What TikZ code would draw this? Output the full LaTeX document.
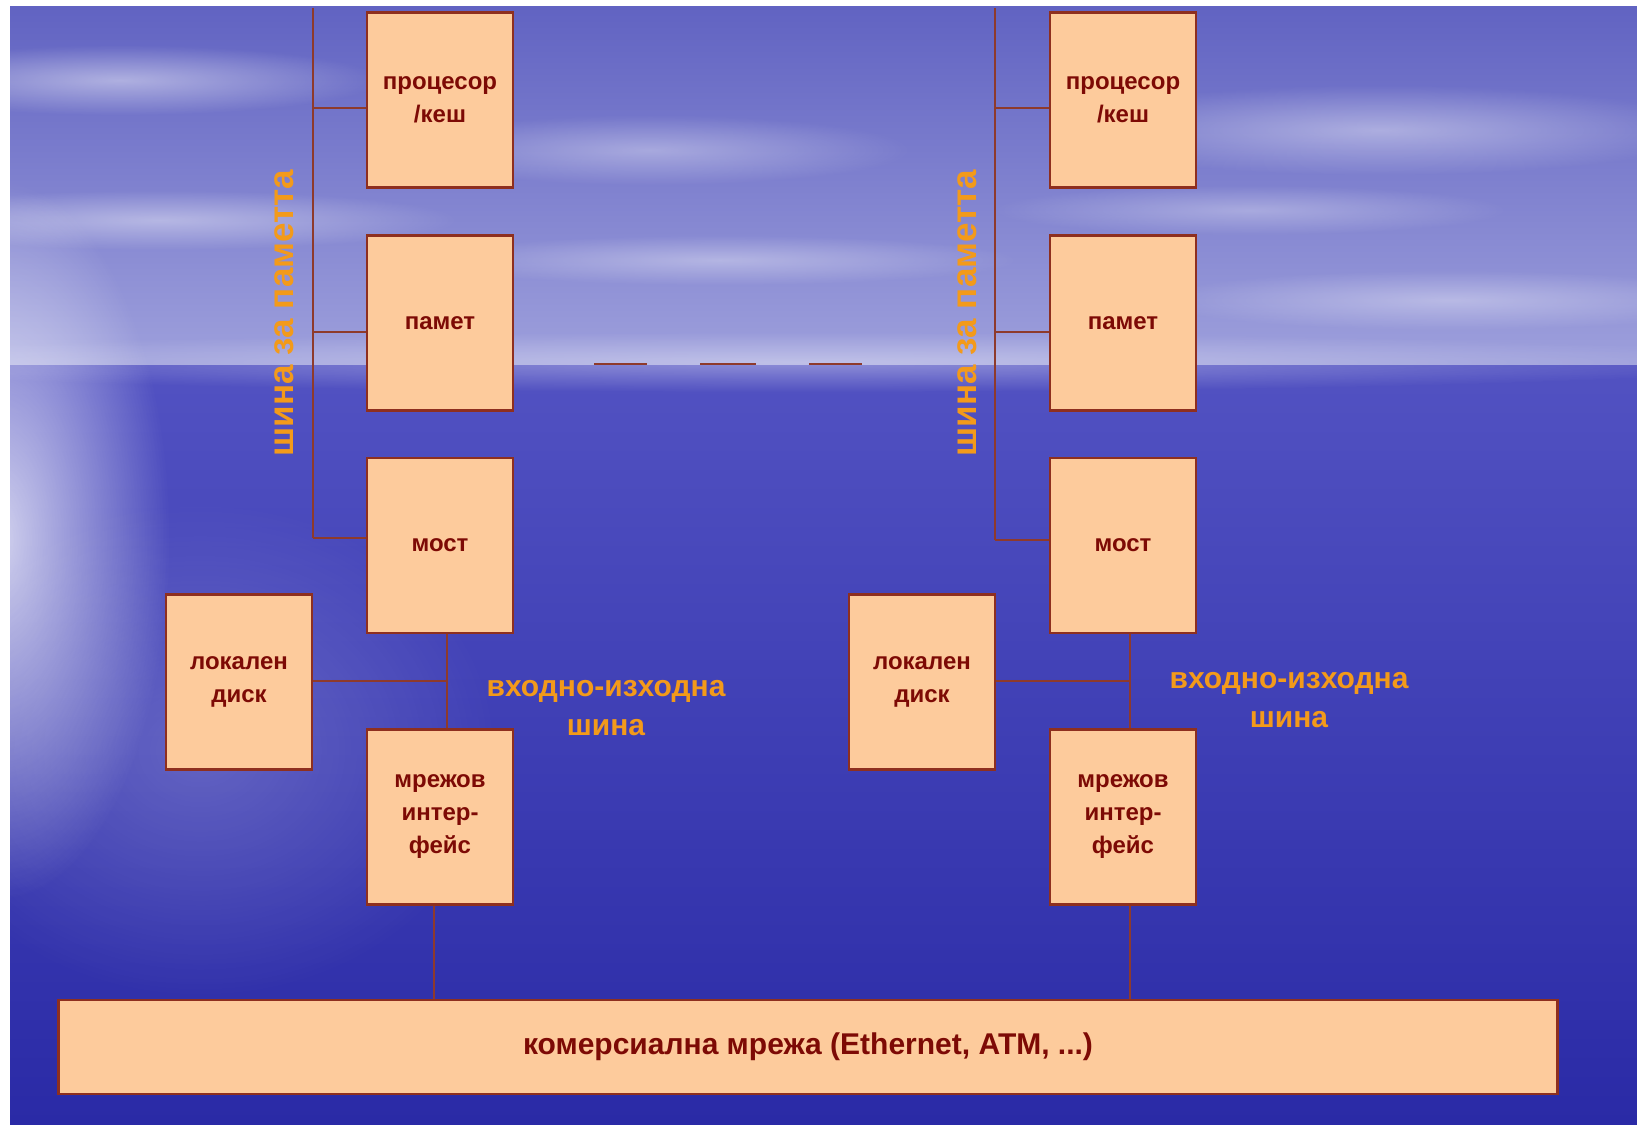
\documentclass[tikz,border=0pt]{standalone}
\usepackage{fontspec}
\setmainfont{Liberation Sans}
\usetikzlibrary{fadings}
\definecolor{boxfill}{HTML}{FDCB9C}
\definecolor{boxline}{HTML}{8E2F1F}
\definecolor{boxtext}{HTML}{7D0A05}
\definecolor{lbl}{HTML}{F39A1A}
\definecolor{wire}{HTML}{8E3A2C}
\definecolor{skytop}{HTML}{6163C2}
\definecolor{skyhor}{HTML}{9EA0DC}
\definecolor{seatop}{HTML}{5252C2}
\definecolor{seabot}{HTML}{2A2AA6}
\tikzfading[name=glowfade, inner color=transparent!0, outer color=transparent!100]
\begin{document}
\begin{tikzpicture}[x=1pt,y=-1pt,
  unit/.style={draw=boxline, line width=2.2pt, fill=boxfill, text=boxtext,
    font=\bfseries\fontsize{24}{33}\selectfont, align=center, inner sep=0pt,
    minimum width=146pt, minimum height=175pt},
  netbox/.style={unit, minimum width=1499pt, minimum height=94pt, font=\bfseries\fontsize{30}{33}\selectfont},
  wireline/.style={draw=wire, line width=2pt},
  buslabel/.style={text=lbl, font=\bfseries\fontsize{35}{40}\selectfont, inner sep=0pt},
  iolabel/.style={text=lbl, font=\bfseries\fontsize{30}{39}\selectfont, align=center, inner sep=0pt},
  cloud/.style={white, path fading=glowfade}
]
% background
\useasboundingbox (0,0) rectangle (1637,1124);
\fill[white] (0,0) rectangle (1637,1124);
\begin{scope}
\clip (10,7) rectangle (1637,1124);
\shade[top color=skytop, bottom color=skyhor] (10,7) rectangle (1637,366);
\shade[top color=seatop, bottom color=seabot] (10,365) rectangle (1637,1124);
\fill[cloud, opacity=0.35] (800,362) ellipse (1000 and 30);
\fill[cloud, opacity=0.45] (120,80) ellipse (260 and 35);
\fill[cloud, opacity=0.40] (160,220) ellipse (300 and 30);
\fill[cloud, opacity=0.35] (650,150) ellipse (260 and 35);
\fill[cloud, opacity=0.35] (720,260) ellipse (300 and 25);
\fill[cloud, opacity=0.40] (1380,130) ellipse (330 and 45);
\fill[cloud, opacity=0.35] (1450,300) ellipse (300 and 30);
\fill[cloud, opacity=0.30] (1250,210) ellipse (260 and 25);
\fill[cloud, opacity=0.75] (0,540) ellipse (170 and 360);
\fill[cloud, opacity=0.20] (200,750) ellipse (300 and 250);
\end{scope}

% left station
\node[unit] (lproc) at (440,100) {процесор\\/кеш};
\node[unit] (lmem) at (440,323) {памет};
\node[unit] (lbr) at (440,545.5) {мост};
\node[unit] (ldisk) at (239,682) {локален\\диск};
\node[unit] (lni) at (440,817) {мрежов\\интер-\\фейс};

% right station
\node[unit] (rproc) at (1123,100) {процесор\\/кеш};
\node[unit] (rmem) at (1123,323) {памет};
\node[unit] (rbr) at (1123,545.5) {мост};
\node[unit] (rdisk) at (922,682) {локален\\диск};
\node[unit] (rni) at (1123,817) {мрежов\\интер-\\фейс};

% network
\node[netbox] (net) at (808,1047) {комерсиална мрежа (Ethernet, ATM, ...)};

% memory buses
\coordinate (lbtop) at (313,8);
\coordinate (lb1) at (313,108);
\coordinate (lb2) at (313,332);
\coordinate (lb3) at (313,538);
\draw[wireline] (lbtop) -- (lb3);
\draw[wireline] (lb1) -- (lb1 -| lproc.west);
\draw[wireline] (lb2) -- (lb2 -| lmem.west);
\draw[wireline] (lb3) -- (lb3 -| lbr.west);

\coordinate (rbtop) at (995,8);
\coordinate (rb1) at (995,108);
\coordinate (rb2) at (995,332);
\coordinate (rb3) at (995,540);
\draw[wireline] (rbtop) -- (rb3);
\draw[wireline] (rb1) -- (rb1 -| rproc.west);
\draw[wireline] (rb2) -- (rb2 -| rmem.west);
\draw[wireline] (rb3) -- (rb3 -| rbr.west);

% I/O buses
\coordinate (lio) at (447,681);
\draw[wireline] (lio |- lbr.south) -- (lio |- lni.north);
\draw[wireline] (ldisk.east |- lio) -- (lio);
\coordinate (rio) at (1130,681);
\draw[wireline] (rio |- rbr.south) -- (rio |- rni.north);
\draw[wireline] (rdisk.east |- rio) -- (rio);

% to network
\coordinate (lnet) at (434,1000);
\draw[wireline] (lnet |- lni.south) -- (lnet |- net.north);
\coordinate (rnet) at (1130,1000);
\draw[wireline] (rnet |- rni.south) -- (rnet |- net.north);

% dashes
\coordinate (d1a) at (594,364); \coordinate (d1b) at (647,364);
\coordinate (d2a) at (700,364); \coordinate (d2b) at (756,364);
\coordinate (d3a) at (809,364); \coordinate (d3b) at (862,364);
\draw[wireline] (d1a) -- (d1b);
\draw[wireline] (d2a) -- (d2b);
\draw[wireline] (d3a) -- (d3b);

% labels
\node[buslabel, rotate=90] (lbl1) at (284,313) {шина за паметта};
\node[buslabel, rotate=90] (lbl2) at (967,313) {шина за паметта};
\node[iolabel] (iol1) at (606,708) {входно-изходна\\шина};
\node[iolabel] (iol2) at (1289,700) {входно-изходна\\шина};
\end{tikzpicture}
\end{document}
